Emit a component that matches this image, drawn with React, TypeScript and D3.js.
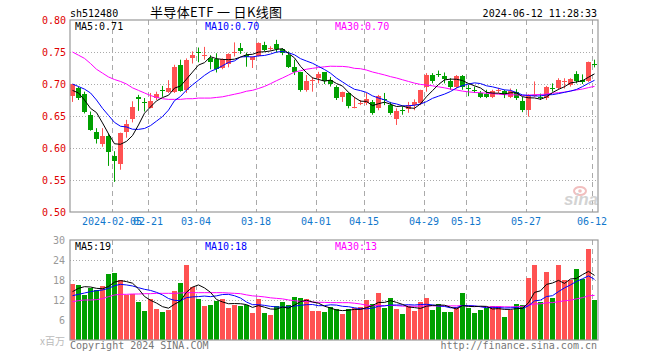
import React from "react";
import * as d3 from "d3";

const openP = [0.682,0.693,0.684,0.651,0.625,0.606,0.619,0.588,0.575,0.625,0.645,0.680,0.672,0.663,0.678,0.691,0.687,0.688,0.729,0.691,0.741,0.750,0.745,0.740,0.739,0.725,0.732,0.749,0.756,0.745,0.738,0.744,0.761,0.754,0.763,0.754,0.745,0.727,0.718,0.691,0.704,0.710,0.718,0.707,0.696,0.679,0.686,0.663,0.670,0.671,0.672,0.662,0.677,0.667,0.645,0.659,0.661,0.667,0.671,0.696,0.714,0.716,0.713,0.705,0.696,0.713,0.693,0.691,0.686,0.684,0.679,0.690,0.689,0.679,0.688,0.673,0.659,0.682,0.680,0.678,0.694,0.693,0.703,0.698,0.715,0.707,0.704,0.731];
const highP = [0.700,0.696,0.688,0.657,0.631,0.631,0.623,0.595,0.624,0.644,0.673,0.683,0.678,0.686,0.688,0.697,0.706,0.730,0.738,0.740,0.751,0.757,0.758,0.745,0.748,0.740,0.748,0.765,0.764,0.749,0.743,0.765,0.766,0.759,0.769,0.756,0.751,0.738,0.719,0.714,0.711,0.719,0.718,0.711,0.698,0.688,0.687,0.680,0.675,0.686,0.675,0.683,0.686,0.672,0.662,0.665,0.672,0.676,0.691,0.717,0.717,0.721,0.718,0.709,0.714,0.714,0.699,0.696,0.689,0.691,0.691,0.694,0.691,0.693,0.692,0.680,0.684,0.704,0.685,0.697,0.701,0.709,0.709,0.709,0.720,0.715,0.735,0.738];
const lowP = [0.672,0.675,0.654,0.627,0.607,0.602,0.572,0.547,0.566,0.616,0.640,0.658,0.657,0.662,0.675,0.680,0.686,0.686,0.688,0.686,0.732,0.734,0.738,0.723,0.718,0.723,0.726,0.743,0.747,0.727,0.725,0.743,0.751,0.752,0.749,0.745,0.725,0.714,0.688,0.688,0.688,0.701,0.700,0.696,0.675,0.672,0.662,0.662,0.667,0.667,0.652,0.659,0.667,0.652,0.636,0.652,0.655,0.659,0.667,0.688,0.701,0.711,0.701,0.691,0.693,0.691,0.681,0.686,0.678,0.678,0.678,0.686,0.678,0.678,0.675,0.656,0.649,0.680,0.675,0.675,0.688,0.691,0.693,0.696,0.701,0.700,0.703,0.726];
const closeP = [0.6995,0.678,0.657,0.628,0.614,0.619,0.593,0.579,0.624,0.637,0.664,0.676,0.671,0.673,0.684,0.690,0.694,0.727,0.689,0.738,0.745,0.749,0.746,0.735,0.723,0.739,0.747,0.750,0.751,0.742,0.742,0.764,0.753,0.757,0.754,0.748,0.727,0.718,0.691,0.705,0.707,0.715,0.704,0.700,0.678,0.687,0.666,0.664,0.671,0.676,0.654,0.681,0.676,0.655,0.658,0.658,0.667,0.672,0.690,0.714,0.705,0.715,0.708,0.696,0.713,0.695,0.692,0.690,0.679,0.679,0.689,0.691,0.684,0.689,0.678,0.659,0.682,0.683,0.679,0.696,0.693,0.707,0.704,0.708,0.704,0.703,0.734,0.730];
const volume = [16.8,16.5,13.5,15.7,15,16.2,19.8,20.1,18,13.5,
  13.8,11.3,8.7,12.3,9.3,8.4,9,14.7,17.1,22.5,
  16,12.3,10.2,10.5,11.8,12.3,9.6,10.5,10.2,10.5,
  8.1,12.3,8.1,7.5,10.2,11.4,10.5,12.9,12.6,12.3,
  8.7,8.7,8.4,9.9,9.3,7.8,9.3,9.6,9.9,12,
  10.8,14.1,9.6,12.6,9.3,7.8,10.2,8.7,11.4,12.6,
  9,10.8,8.4,8.4,9.9,14.1,9.6,8.1,9,9.6,
  10.2,10.2,6.9,9,10.8,10.5,18.6,22.5,11.4,20.4,
  12.6,22.5,18,18,21.3,18.3,27.3,12];

// MA values at the left edge (need data before the visible window)
const ma5Head = [0.690,0.686,0.675,0.662];
const ma10Head = [0.700,0.696,0.692,0.686,0.675,0.662,0.651,0.640,0.634];
const ma30Head = [0.750,0.745,0.740,0.732,0.723,0.717,0.711,0.707,0.704,0.700,0.694,0.690,0.686,0.682,0.679,0.677,0.676,0.676,0.676,0.677,0.677,0.678,0.678,0.678,0.679,0.680,0.682,0.684,0.686];
const vma5Head = [14.5,15.5,16,15.9];
const vma10Head = [13.3,13.7,14.1,14.5,14.8,15,15.5,16.3,16.7];
const vma30Head = [11.5,11.8,12,12,12.1,12.4,13,13.5,13.7,13.7,13.8,13.8,13.9,13.9,14,14,14,14,14.1,14.2,14.2,14.2,14.2,14.2,14.2,14.2,14.1,14,13.9];

const tickLabels = ["2024-02-05","02-21","03-04","03-18","04-01","04-15","04-29","05-13","05-27","06-12"];
const tickIndex = [7,13,21,31,41,49,59,66,76,87];
const priceTicks = [0.50,0.55,0.60,0.65,0.70,0.75,0.80];
const volTicks = [6,12,18,24,30];

const RED = "#ff5252";
const GREEN = "#00a000";
const MONO = "'DejaVu Sans Mono', monospace";

function movingAvg(vals: number[], n: number, head: number[]) {
  return vals.map((_, i) => (i < head.length ? head[i] : (d3.mean(vals.slice(i - n + 1, i + 1)) as number)));
}

export default function App() {
  const L = 70, R = 598;
  const n = closeP.length;
  const x = d3.scaleBand<number>().domain(d3.range(n)).range([L, R]).paddingInner(1 / 6).paddingOuter(1 / 12).align(0);
  const bw = x.bandwidth();
  const cx = (i: number) => (x(i) as number) + bw / 2;
  const y = d3.scaleLinear().domain([0.5, 0.8]).range([212, 20]);
  const yv = d3.scaleLinear().domain([0, 30]).range([340, 240]);

  const ma5 = movingAvg(closeP, 5, ma5Head);
  const ma10 = movingAvg(closeP, 10, ma10Head);
  const ma30 = movingAvg(closeP, 30, ma30Head);
  const vma5 = movingAvg(volume, 5, vma5Head);
  const vma10 = movingAvg(volume, 10, vma10Head);
  const vma30 = movingAvg(volume, 30, vma30Head);

  const lineP = d3.line<number>().x((_, i) => cx(i)).y((d) => y(d));
  const lineV = d3.line<number>().x((_, i) => cx(i)).y((d) => yv(d));
  const col = (i: number) => (closeP[i] >= openP[i] ? RED : GREEN);

  return (
    <svg width={660} height={360} style={{ position: "fixed", left: 0, top: 0, background: "#fff" }} fontFamily={MONO}>
      <rect x={0} y={0} width={660} height={360} fill="#fff" />
      {/* header */}
      <text x={70} y={16.5} fontSize={10} fill="#000">sh512480</text>
      <text x={150} y={17} fontSize={13} fill="#000" fontFamily="'Noto Sans CJK SC', sans-serif" textLength={132} lengthAdjust="spacing">半导体ETF 一 日K线图</text>
      <text x={597} y={16.5} fontSize={10} fill="#000" textAnchor="end">2024-06-12 11:28:33</text>

      {/* price grid */}
      {priceTicks.filter((t) => t > 0.5 && t < 0.8).map((t) => (
        <line key={"hp" + t} x1={L} x2={R} y1={Math.round(y(t)) + 0.5} y2={Math.round(y(t)) + 0.5} stroke="#aaa" strokeDasharray="1,2" />
      ))}
      {tickIndex.map((ti) => (
        <line key={"vp" + ti} x1={(x(ti) as number) + 0.5} x2={(x(ti) as number) + 0.5} y1={20} y2={212} stroke="#aaa" strokeDasharray="5,4" />
      ))}
      {/* volume grid */}
      {volTicks.filter((t) => t < 30).map((t) => (
        <line key={"hv" + t} x1={L} x2={R} y1={Math.round(yv(t)) + 0.5} y2={Math.round(yv(t)) + 0.5} stroke="#aaa" strokeDasharray="1,2" />
      ))}
      {tickIndex.map((ti) => (
        <line key={"vv" + ti} x1={(x(ti) as number) + 0.5} x2={(x(ti) as number) + 0.5} y1={240} y2={340} stroke="#aaa" strokeDasharray="5,4" />
      ))}

      {/* sina watermark */}
      <g opacity={0.9}>
        <ellipse cx={580} cy={191} rx={6} ry={4} fill="none" stroke="#f0b8b8" strokeWidth={2} />
        <circle cx={580} cy={191} r={1.8} fill="#f0b8b8" />
        <text x={564} y={205} fontSize={17} fontStyle="italic" fontWeight="bold" fill="#cfcfcf" fontFamily="Arial, 'Liberation Sans', sans-serif">sina</text>
      </g>

      {/* candles */}
      {closeP.map((c, i) => {
        const o = openP[i];
        const y1 = Math.round(y(Math.max(o, c)));
        const y2 = Math.round(y(Math.min(o, c)));
        const xi = x(i) as number;
        return (
          <g key={"c" + i}>
            <line x1={xi + 2.5} x2={xi + 2.5} y1={y(highP[i])} y2={y(lowP[i])} stroke={col(i)} strokeWidth={1} />
            <rect x={xi} y={y1} width={bw} height={Math.max(1, y2 - y1)} fill={col(i)} shapeRendering="crispEdges" />
          </g>
        );
      })}
      <path d={lineP(ma30) as string} fill="none" stroke="#ff00ff" strokeWidth={1} />
      <path d={lineP(ma10) as string} fill="none" stroke="#0000ff" strokeWidth={1} />
      <path d={lineP(ma5) as string} fill="none" stroke="#000" strokeWidth={1} />

      {/* volume bars */}
      {volume.map((v, i) => (
        <rect key={"v" + i} x={x(i) as number} y={Math.round(yv(v))} width={bw} height={340 - Math.round(yv(v))} fill={col(i)} shapeRendering="crispEdges" />
      ))}
      <path d={lineV(vma30) as string} fill="none" stroke="#ff00ff" strokeWidth={1} />
      <path d={lineV(vma10) as string} fill="none" stroke="#0000ff" strokeWidth={1} />
      <path d={lineV(vma5) as string} fill="none" stroke="#000" strokeWidth={1} />

      {/* frames */}
      <rect x={70} y={20} width={528} height={192} fill="none" stroke="#999" strokeWidth={1.2} />
      <rect x={70} y={240} width={528} height={100} fill="none" stroke="#999" strokeWidth={1.2} />

      {/* MA labels */}
      <text x={75} y={29.5} fontSize={10} fill="#000">MA5:0.71</text>
      <text x={205} y={29.5} fontSize={10} fill="#0000ff">MA10:0.70</text>
      <text x={335} y={29.5} fontSize={10} fill="#ff00ff">MA30:0.70</text>
      <text x={75} y={250} fontSize={10} fill="#000">MA5:19</text>
      <text x={205} y={250} fontSize={10} fill="#0000ff">MA10:18</text>
      <text x={335} y={250} fontSize={10} fill="#ff00ff">MA30:13</text>

      {/* price axis labels */}
      {priceTicks.map((t) => (
        <text key={"pt" + t} x={66} y={y(t) + 3.5} fontSize={10} fill="#e00000" textAnchor="end">{t.toFixed(2)}</text>
      ))}
      {/* volume axis labels */}
      {volTicks.map((t) => (
        <text key={"vt" + t} x={65} y={yv(t) + 3.5} fontSize={10} fill="#999" textAnchor="end">{t}</text>
      ))}
      <text x={65} y={345} fontSize={10} fill="#bbb" textAnchor="end" fontFamily="'Noto Sans CJK SC', sans-serif">x百万</text>

      {/* date labels */}
      {tickIndex.map((ti, k) => (
        <text key={"dt" + ti} x={x(ti) as number} y={225} fontSize={10} fill="#1177cc" textAnchor="middle">{tickLabels[k]}</text>
      ))}

      {/* footer */}
      <text x={70} y={349} fontSize={10} fill="#777">Copyright 2024 SINA.COM</text>
      <text x={597} y={349} fontSize={10} fill="#777" textAnchor="end">http://finance.sina.com.cn</text>
    </svg>
  );
}
